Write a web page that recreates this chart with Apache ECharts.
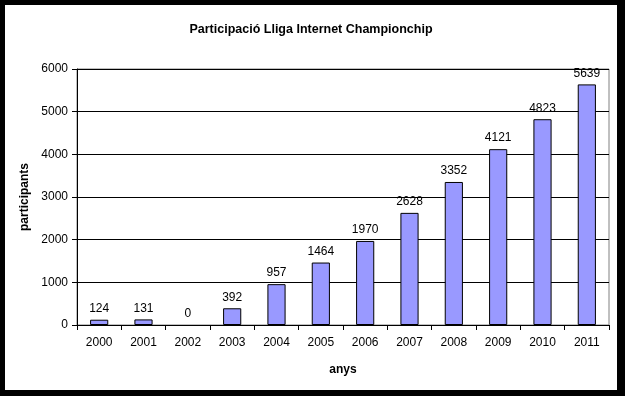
<!DOCTYPE html>
<html><head><meta charset="utf-8">
<script src="https://cdn.jsdelivr.net/npm/echarts@6/dist/echarts.min.js"></script>
<style>
html,body{margin:0;padding:0;background:#000;width:625px;height:396px;overflow:hidden;}
#c{position:absolute;left:5px;top:5px;width:612px;height:385px;background:#fff;}
</style></head>
<body><div id="c"></div>
<script>
const titleText = 'Participació Lliga Internet Championchip';
const xName = 'anys';
const yName = 'participants';
const years = ['2000','2001','2002','2003','2004','2005','2006','2007','2008','2009','2010','2011'];
const participants = [124,131,0,392,957,1464,1970,2628,3352,4121,4823,5639];

const FONT = 'Liberation Sans, Arial, sans-serif';
const barData = participants.map(v => v === 0 ? {value: v, itemStyle: {borderWidth: 0, color: 'rgba(0,0,0,0)'}} : v);
const chart = echarts.init(document.getElementById('c'));
chart.setOption({
  backgroundColor: '#fff',
  animation: false,
  title: {
    text: titleText, left: 'center', top: 13,
    textStyle: {fontFamily: FONT, fontSize: 12.5, fontWeight: 'bold', color: '#000'}
  },
  grid: {left: 72, right: 8, top: 64, bottom: 65, show: true, borderColor: '#808080', borderWidth: 1, backgroundColor: 'transparent'},
  xAxis: {
    type: 'category', data: years,
    name: xName, nameLocation: 'middle', nameGap: 39,
    nameTextStyle: {fontFamily: FONT, fontSize: 12, fontWeight: 'bold', color: '#000'},
    axisLine: {lineStyle: {color: '#000', width: 1}},
    axisTick: {show: true, length: 5, lineStyle: {color: '#000'}},
    axisLabel: {fontFamily: FONT, fontSize: 12, color: '#000', margin: 12}
  },
  yAxis: {
    type: 'value', min: 0, max: 6000, interval: 1000,
    name: yName, nameLocation: 'middle', nameGap: 40,
    nameTextStyle: {fontFamily: FONT, fontSize: 12, fontWeight: 'bold', color: '#000'},
    axisLine: {show: true, lineStyle: {color: '#000', width: 1}},
    axisTick: {show: true, length: 5, lineStyle: {color: '#000'}},
    axisLabel: {fontFamily: FONT, fontSize: 12, color: '#000', margin: 9, formatter: v => String(v)},
    splitLine: {show: true, lineStyle: {color: '#000', width: 1}}
  },
  series: [{
    type: 'bar', data: barData, barWidth: '41%',
    itemStyle: {color: '#9999FF', borderColor: '#000', borderWidth: 1},
    label: {show: true, position: 'top', distance: 5, fontFamily: FONT, fontSize: 12, color: '#000'}
  }]
});
</script></body></html>
